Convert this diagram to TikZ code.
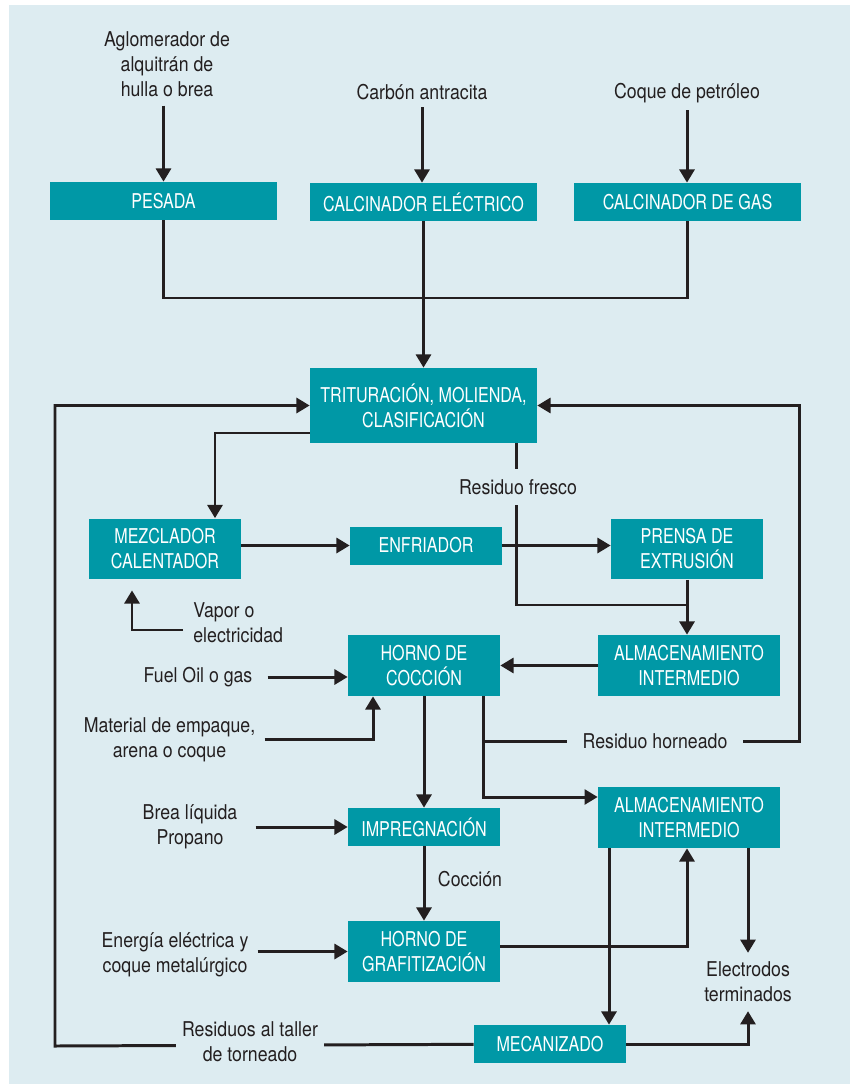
\documentclass[tikz,border=0pt]{standalone}
\usepackage{fontspec}
\setmainfont{TeX Gyre Heros}[FakeStretch=0.87]
\newfontfamily\boxfont{TeX Gyre Heros}[FakeStretch=0.79]
\usepackage{tikz}
\usetikzlibrary{arrows.meta}
\definecolor{bgblue}{RGB}{221,236,241}
\definecolor{boxteal}{RGB}{0,152,166}
\definecolor{inkdark}{RGB}{35,31,32}
\tikzset{
  procbox/.style={fill=boxteal, text=white, inner sep=0pt, align=center,
    font=\boxfont\fontsize{11.6}{14.2}\selectfont, minimum height=0.76cm},
  widebox/.style={procbox, minimum width=4.54cm},
  midbox/.style={procbox, minimum width=3.04cm},
  storebox/.style={procbox, minimum width=3.64cm, minimum height=1.22cm},
  tallbox/.style={minimum height=1.22cm},
  lbl/.style={text=inkdark, inner sep=0pt, align=center,
    font=\fontsize{11.6}{14.2}\selectfont},
  gaplbl/.style={lbl, fill=bgblue},
  flow/.style={draw=inkdark, line width=1.7pt},
  flowarrow/.style={flow, -{Triangle[length=7.5pt,width=8.5pt]}}
}

\begin{document}
\begin{tikzpicture}[x=0.02cm, y=-0.02cm]
  \useasboundingbox (0,0) rectangle (850,1084);
  \fill[bgblue] (9,5) rectangle (850,1084);

  %% raw materials
  \node[lbl] (aglom) at (167,64) {Aglomerador de\\alquitrán de\\hulla o brea};
  \node[lbl] (carbon) at (422,92) {Carbón antracita};
  \node[lbl] (coque) at (687,93) {Coque de petróleo};

  \node[widebox] (pesada) at (163.5,201) {PESADA};
  \node[widebox] (calcelec) at (423.5,202) {CALCINADOR ELÉCTRICO};
  \node[widebox] (calcgas) at (687.5,202) {CALCINADOR DE GAS};
  \node[widebox, minimum height=1.5cm] (trit) at (423.5,405.5) {TRITURACIÓN, MOLIENDA,\\CLASIFICACIÓN};

  \node[midbox, tallbox] (mezcl) at (165,549) {MEZCLADOR\\CALENTADOR};
  \node[midbox] (enfr) at (426,545.5) {ENFRIADOR};
  \node[midbox, tallbox] (prensa) at (687,549) {PRENSA DE\\EXTRUSIÓN};
  \node[storebox] (almaA) at (689,665.5) {ALMACENAMIENTO\\INTERMEDIO};
  \node[midbox, tallbox] (hornoc) at (424,665.5) {HORNO DE\\COCCIÓN};
  \node[midbox] (impreg) at (424,827) {IMPREGNACIÓN};
  \node[midbox, tallbox] (hornog) at (424,951.5) {HORNO DE\\GRAFITIZACIÓN};
  \node[storebox] (almaB) at (689,817.5) {ALMACENAMIENTO\\INTERMEDIO};
  \node[midbox] (mecan) at (550,1044) {MECANIZADO};

  %% side inputs
  \node[lbl, anchor=west, align=left] (vapor) at (193,623) {Vapor o\\electricidad};
  \node[lbl] (fuel) at (198,677) {Fuel Oil o gas};
  \node[lbl] (material) at (169.5,739.5) {Material de empaque,\\arena o coque};
  \node[lbl] (brea) at (190,827) {Brea líquida\\Propano};
  \node[lbl] (coccion) at (470,879) {Cocción};
  \node[lbl] (energia) at (175,954.5) {Energía eléctrica y\\coque metalúrgico};
  \node[lbl] (electro) at (748,982) {Electrodos\\terminados};

  \coordinate (merge) at (423.5,298);
  \coordinate (mixin) at (215,433);
  \coordinate (frescoA) at (516,605);
  \coordinate (vapbend) at (132,630);
  \coordinate (packbend) at (373,739);
  \coordinate (branch) at (483,741);
  \coordinate (bendB) at (483,797);
  \coordinate (loopR) at (799,741);
  \coordinate (loopL) at (55,1046);
  \coordinate (grafup) at (687,946);
  \coordinate (machx) at (609,1000);

  \draw[flowarrow, shorten <=5pt] (aglom.south -| pesada) -- (pesada);
  \draw[flowarrow, shorten <=4pt] (carbon) -- (carbon |- calcelec.north);
  \draw[flowarrow, shorten <=4pt] (coque) -- (coque |- calcgas.north);
  \draw[flow] (pesada) |- (merge) -| (calcgas);
  \draw[flowarrow] (calcelec) -- (trit);

  \draw[flowarrow] (trit.west |- mixin) -- (mixin) -- (mixin |- mezcl.north);
  \draw[flow] (trit.south -| frescoA) -- (frescoA) -- (frescoA -| prensa.south);
  \draw[flowarrow] (mezcl.east |- enfr) -- (enfr);
  \draw[flowarrow] (enfr) -- (enfr -| prensa.west);
  \draw[flowarrow] (prensa) -- (prensa |- almaA.north);
  \draw[flowarrow, shorten >=6pt] ([xshift=-0.2cm]vapor.west |- vapbend) -- (vapbend) -- (vapbend |- mezcl.south);

  \draw[flowarrow] (almaA) -- (hornoc);
  \draw[flowarrow] ([xshift=0.3cm]fuel.east) -- (fuel.east -| hornoc.west);
  \draw[flowarrow] ([xshift=0.18cm]material.east |- packbend) -- (packbend) -- (packbend |- hornoc.south);
  \draw[flowarrow] (hornoc) -- (impreg);
  \draw[flowarrow] (hornoc.south -| bendB) -- (bendB) -- (bendB -| almaB.west);
  \draw[flowarrow] (branch) -- (loopR) |- (trit);

  \draw[flowarrow] ([xshift=0.36cm]brea.east |- impreg) -- (impreg);
  \draw[flowarrow] (impreg) -- (hornog);
  \draw[flowarrow] ([xshift=0.18cm]energia.east |- hornog) -- (hornog);
  \draw[flowarrow] (hornog.east |- grafup) -- (grafup) -- (grafup |- almaB.south);
  \draw[flowarrow] (almaB.south -| machx) -- (mecan.north -| machx);
  \draw[flowarrow, shorten >=5pt] (almaB.south -| electro) -- (electro);
  \draw[flowarrow, shorten >=5pt] (mecan) -| (electro);
  \draw[flowarrow] (mecan) -- (loopL) |- (trit);

  %% labels sitting on the lines
  \node[gaplbl, inner xsep=2pt, inner ysep=6pt] (fresco) at (518,487) {Residuo fresco};
  \node[gaplbl, inner xsep=9pt, inner ysep=3pt] (horneado) at (655,741) {Residuo horneado};
  \node[gaplbl, inner xsep=3.5pt, inner ysep=2pt] (taller) at (250,1042) {Residuos al taller\\de torneado};
\end{tikzpicture}
\end{document}
